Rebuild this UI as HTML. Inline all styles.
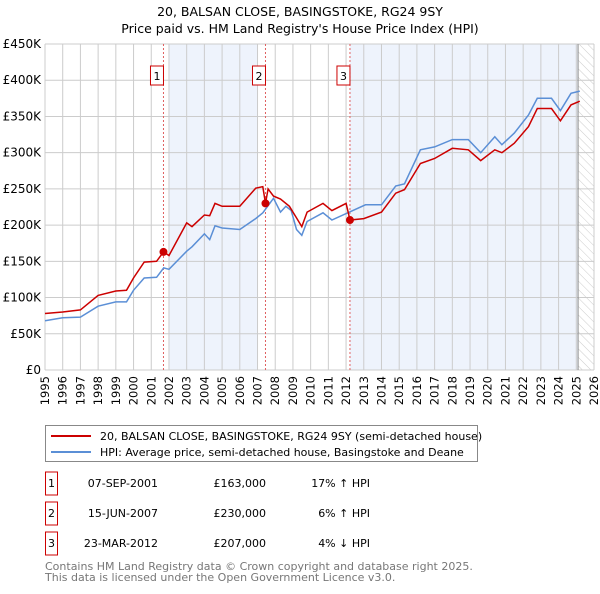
<!DOCTYPE html>
<html><head><meta charset="utf-8"><style>
body{margin:0;background:#fff;font-family:"DejaVu Sans","Liberation Sans",sans-serif;}
svg text{font-family:"DejaVu Sans","Liberation Sans",sans-serif;}
</style></head><body>
<svg id="chart" width="600" height="590" xmlns="http://www.w3.org/2000/svg">
<defs><pattern id="hatch" width="6" height="6" patternUnits="userSpaceOnUse" patternTransform="rotate(-45)"><line x1="0" y1="0" x2="0" y2="6" stroke="#ccc" stroke-width="1"/></pattern></defs>
<text x="300" y="16" text-anchor="middle" font-size="12.5">20, BALSAN CLOSE, BASINGSTOKE, RG24 9SY</text>
<text x="300" y="33" text-anchor="middle" font-size="12.5">Price paid vs. HM Land Registry's House Price Index (HPI)</text>
<g id="plot"></g>
<g>
<rect x="45.5" y="425.5" width="432" height="36" fill="#fff" stroke="#888"/>
<line x1="51" y1="436" x2="91" y2="436" stroke="#c00" stroke-width="2"/>
<text x="100" y="440" font-size="11">20, BALSAN CLOSE, BASINGSTOKE, RG24 9SY (semi-detached house)</text>
<line x1="51" y1="452" x2="91" y2="452" stroke="#5b8fd6" stroke-width="2"/>
<text x="100" y="456" font-size="11">HPI: Average price, semi-detached house, Basingstoke and Deane</text>
</g>
<g id="table" font-size="11"></g>
<text x="45" y="570" font-size="11" fill="#777">Contains HM Land Registry data © Crown copyright and database right 2025.</text>
<text x="45" y="581" font-size="11" fill="#777">This data is licensed under the Open Government Licence v3.0.</text>
</svg>
<script>
const hpiDates=[1995,1996,1997,1998,1999,1999.6,2000,2000.6,2001.3,2001.7,2002,2003,2003.3,2004,2004.3,2004.6,2005,2006,2006.9,2007.3,2007.9,2008.3,2008.6,2008.9,2009.2,2009.5,2009.8,2010.7,2011.2,2012.1,2013.1,2014,2014.8,2015.3,2016.2,2017,2018,2018.9,2019.6,2020.4,2020.8,2021.5,2022.3,2022.8,2023.6,2024.1,2024.7,2025.2];
const hpiValues=[68,72,73,88,94,94,110,127,128,141,139,164,170,188,180,199,196,194,209,217,237,218,226,220,194,186,205,217,207,217,228,228,254,257,304,308,318,318,300,322,311,327,352,375,375,358,382,385];
const priceDates=[1995,1996,1997,1998,1999,1999.6,2000,2000.6,2001.3,2001.69,2002,2003,2003.3,2004,2004.3,2004.6,2005,2006,2006.9,2007.3,2007.45,2007.6,2007.9,2008.3,2008.8,2009.2,2009.5,2009.8,2010.7,2011.2,2012.0,2012.22,2013,2014,2014.8,2015.3,2016.2,2017,2018,2018.9,2019.6,2020.4,2020.8,2021.5,2022.3,2022.8,2023.6,2024.1,2024.7,2025.2];
const priceValues=[78,80,83,103,109,110,127,149,150,163,158,203,198,214,213,230,226,226,251,253,230,250,240,236,226,210,198,218,230,220,230,207,209,218,244,249,285,292,306,304,289,304,300,313,336,361,361,344,366,371];
const saleLabels=["1","2","3"];
const saleDates=[2001.69,2007.45,2012.22];
const salePrices=[163,230,207];
const saleDateText=["07-SEP-2001","15-JUN-2007","23-MAR-2012"];
const salePriceText=["£163,000","£230,000","£207,000"];
const saleHpiText=["17% ↑ HPI","6% ↑ HPI","4% ↓ HPI"];
const yTicks=[0,50,100,150,200,250,300,350,400,450];
const yTickLabels=["£0","£50K","£100K","£150K","£200K","£250K","£300K","£350K","£400K","£450K"];
const xYears=[1995,1996,1997,1998,1999,2000,2001,2002,2003,2004,2005,2006,2007,2008,2009,2010,2011,2012,2013,2014,2015,2016,2017,2018,2019,2020,2021,2022,2023,2024,2025,2026];
const X0=45,X1=594,Y0=370,Y1=44;
const xs=y=>X0+(y-1995)/(2026-1995)*(X1-X0);
const ys=v=>Y0-v/450*(Y0-Y1);
const NS="http://www.w3.org/2000/svg";
const plot=document.getElementById('plot');
function mk(tag,attrs,parent){const e=document.createElementNS(NS,tag);for(const k in attrs)e.setAttribute(k,attrs[k]);(parent||plot).appendChild(e);return e;}
mk('rect',{x:X0,y:Y1,width:X1-X0,height:Y0-Y1,fill:'#fff'});
let s1=mk('rect',{x:xs(2002),y:Y1,width:xs(2007)-xs(2002),height:Y0-Y1,fill:'#eef3fc'});


let s2=mk('rect',{x:xs(saleDates[2]),y:Y1,width:xs(2025.1)-xs(saleDates[2]),height:Y0-Y1,fill:'#eef3fc'});


let h=mk('rect',{x:xs(2025.1),y:Y1,width:X1-xs(2025.1),height:Y0-Y1,fill:'url(#hatch)'});


xYears.forEach(y=>{const l=mk('line',{x1:xs(y),x2:xs(y),y1:Y1,y2:Y0,stroke:'#ccc','stroke-width':1});


const t=mk('text',{x:0,y:0,'font-size':11.5,'text-anchor':'end',transform:`translate(${xs(y)+4},${Y0+6}) rotate(-90)`});t.textContent=y;

});
yTicks.forEach((v,i)=>{const l=mk('line',{x1:X0,x2:X1,y1:ys(v),y2:ys(v),stroke:'#ccc','stroke-width':1});


const t=mk('text',{x:X0-4,y:ys(v)+4,'font-size':12,'text-anchor':'end'});t.textContent=yTickLabels[i];

});
let vl=mk('line',{x1:xs(2025.1),x2:xs(2025.1),y1:Y1,y2:Y0,stroke:'#888','stroke-width':1});


saleDates.forEach((d,i)=>{const l=mk('line',{x1:xs(d),x2:xs(d),y1:Y1,y2:Y0,stroke:'#e06060','stroke-width':1,'stroke-dasharray':'2,2'});


const r=mk('rect',{x:xs(d)-13,y:66,width:13,height:19,fill:'#fff',stroke:'#c00'});


const t=mk('text',{x:xs(d)-6.5,y:80,'font-size':11,'text-anchor':'middle'});t.textContent=saleLabels[i];

});
const path=(ds,vs)=>ds.map((d,i)=>(i?'L':'M')+xs(d).toFixed(1)+','+ys(vs[i]).toFixed(1)).join('');
let hp=mk('path',{d:path(hpiDates,hpiValues),fill:'none',stroke:'#5b8fd6','stroke-width':1.5});


let pp=mk('path',{d:path(priceDates,priceValues),fill:'none',stroke:'#c00','stroke-width':1.5});


saleDates.forEach((d,i)=>{const c=mk('circle',{cx:xs(d),cy:ys(salePrices[i]),r:4,fill:'#c00'});

});
const tb=document.getElementById('table');
saleLabels.forEach((lab,i)=>{const y=483+i*30;
const r=mk('rect',{x:45.5,y:y-11,width:12,height:23,fill:'#fff',stroke:'#c00'},tb);


const cells=[[51.5,lab,'middle'],[158,saleDateText[i],'end'],[266,salePriceText[i],'end'],[370,saleHpiText[i],'end']];
cells.forEach(c=>{const t=mk('text',{x:c[0],y:y+4,'text-anchor':c[2]},tb);t.textContent=c[1];

});});
</script>
</body></html>
